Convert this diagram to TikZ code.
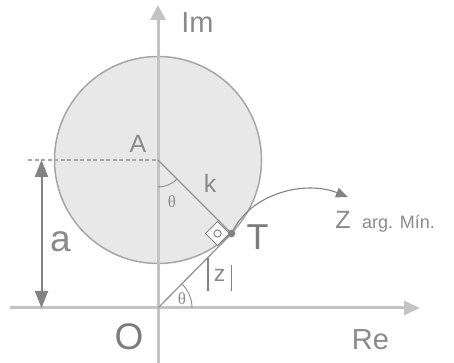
\documentclass[tikz,border=0pt]{standalone}
\usepackage{fontspec}
\setmainfont{Liberation Sans}
\newfontfamily\grkfont{Liberation Serif}
\usetikzlibrary{arrows.meta,calc}
\definecolor{axisgray}{HTML}{C3C3C3}
\definecolor{circfill}{HTML}{E8E8E8}
\definecolor{circline}{HTML}{A6A6A6}
\definecolor{linegray}{HTML}{959595}
\definecolor{dimgray}{HTML}{838383}
\definecolor{txtgray}{HTML}{8A8A8A}
\definecolor{darktxt}{HTML}{7C7C7C}
\newcommand{\fsz}[1]{\fontsize{#1}{#1}\selectfont}
\begin{document}
\begin{tikzpicture}[x=1pt,y=1pt,
  lbl/.style={text=txtgray, inner sep=0pt, anchor=base},
  axisline/.style={draw=axisgray, line width=3pt},
  geoline/.style={draw=linegray, line width=1.3pt},
  anglearc/.style={draw=linegray, line width=1pt},
  dimline/.style={draw=dimgray, line width=2pt, {Triangle[length=17pt,width=13pt]}-{Triangle[length=17pt,width=13pt]}},
  guide/.style={draw=circline, line width=1.2pt, dash pattern=on 4pt off 2.5pt},
  barline/.style={draw=dimgray, line width=1.5pt},
  pointer/.style={draw=dimgray, line width=1.1pt, -{Triangle[length=12pt,width=10pt]}}
]
\useasboundingbox (0,0) rectangle (454,363);
% key points
\coordinate (O) at (158,55);
\coordinate (A) at (158,203);
\coordinate (T) at ($(A)+(-45:104)$);
\coordinate (ImEnd) at (158,358);
\coordinate (ImStart) at (158,0);
\coordinate (ReStart) at (10,55);
\coordinate (ReEnd) at (420,55);
\coordinate (DashStart) at (28,203);
\coordinate (DimTop) at (41.5,203);
\coordinate (DimBot) at (41.5,55);
\coordinate (ZTip) at (348,166);
% circle
\draw[fill=circfill, draw=circline, line width=1.5pt] (A) circle[radius=103.5];
% axes
\draw[axisline, -{Triangle[length=15pt,width=15pt]}] (ImStart) -- (ImEnd);
\draw[axisline, -{Triangle[length=16pt,width=14pt]}] (ReStart) -- (ReEnd);
% dashed guide and dimension
\draw[guide] (DashStart) -- (A);
\draw[dimline] (DimTop) -- (DimBot);
% radius and tangent
\draw[geoline] (A) -- (T);
\draw[geoline] (O) -- (T);
% angle arcs
\draw[anglearc] ($(A)+(270:27)$) arc[start angle=270, end angle=315, radius=27];
\draw[anglearc] ($(O)+(0:34)$) arc[start angle=0, end angle=45, radius=34];
% right angle marker
\coordinate (Tc) at ($(T)+(-2,0)$);
\draw[draw=dimgray, line width=1pt, fill=white] (Tc) -- ++(135:17) -- ++(225:17) -- ++(315:17) -- cycle;
\draw[draw=dimgray, line width=1pt] ($(Tc)+(-12,0)$) circle[radius=3.6];
\fill[dimgray] (T) circle[radius=3.8];
% pointer to Z
\draw[pointer] (T) .. controls (250,170) and (305,183) .. (ZTip);
% labels
\node[lbl, font=\fsz{29}] (Im) at (197.5,330) {Im};
\node[lbl, font=\fsz{29}] (Re) at (370.5,13) {Re};
\node[lbl, font=\fsz{37}, text=darktxt] (Olbl) at (129,13.5) {O};
\node[lbl, font=\fsz{25}] (Albl) at (138,210) {A};
\node[lbl, font=\fsz{25}] (klbl) at (210,170) {k};
\node[lbl, font=\fsz{36}, text=darktxt] (Tlbl) at (257.5,113) {T};
\node[lbl, font=\fsz{25}] (Zlbl) at (343,134.5) {Z};
\node[lbl, font=\fsz{18}, anchor=base west] (arglbl) at (362,134) {arg. Mín.};
\node[lbl, font=\fsz{37}] (albl) at (60.5,111) {a};
\node[lbl, font=\grkfont\fsz{17}] (thA) at (172,155) {θ};
\node[lbl, font=\grkfont\fsz{17}] (thO) at (182,58) {θ};
\node[lbl, font=\fsz{23}] (zlbl) at (219.5,81) {z};
\draw[barline] ($(zlbl.base)+(-11.5,-9)$) -- ++(0,33);
\draw[barline] ($(zlbl.base)+(12,-9)$) -- ++(0,26);
\end{tikzpicture}
\end{document}
